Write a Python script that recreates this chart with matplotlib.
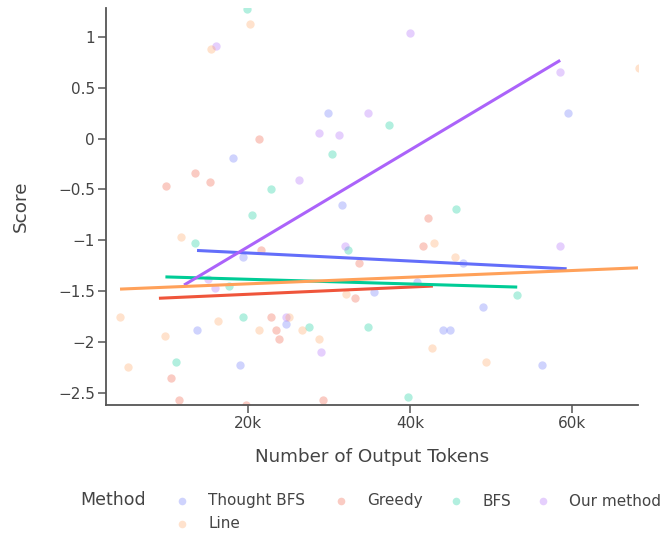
import matplotlib
matplotlib.use("Agg")
import matplotlib.pyplot as plt
from matplotlib.lines import Line2D
from matplotlib.ticker import FuncFormatter

plt.rcParams['font.family'] = ['DejaVu Sans']

# ---- data (x in thousands of tokens) ----
methods = ["Thought BFS", "Greedy", "BFS", "Our method", "Line"]
colors = ["#636EFA", "#EF553B", "#00CC96", "#AB63FA", "#FFA15A"]

tbfs_x = [18.1, 29.9, 59.5, 31.6, 19.4, 35.5, 13.7, 24.7, 19.0, 46.5, 40.8, 49.0, 44.0, 44.9, 56.2]
tbfs_y = [-0.19, 0.25, 0.25, -0.65, -1.16, -1.51, -1.88, -1.82, -2.23, -1.22, -1.41, -1.66, -1.88, -1.88, -2.23]

greedy_x = [21.4, 13.4, 9.9, 15.3, 21.6, 33.7, 33.2, 22.8, 23.5, 23.8, 10.5, 11.5, 29.2, 19.8, 42.2, 41.6]
greedy_y = [0.0, -0.34, -0.47, -0.43, -1.10, -1.22, -1.57, -1.75, -1.88, -1.97, -2.35, -2.57, -2.57, -2.62, -0.78, -1.06]

bfs_x = [19.9, 30.4, 22.8, 37.4, 20.5, 13.5, 32.3, 17.6, 19.4, 27.5, 34.8, 11.1, 45.7, 53.2, 39.7]
bfs_y = [1.28, -0.15, -0.50, 0.13, -0.75, -1.03, -1.10, -1.45, -1.75, -1.85, -1.85, -2.20, -0.69, -1.54, -2.54]

ours_x = [16.0, 34.8, 28.8, 31.2, 26.3, 40.0, 58.5, 32.0, 15.1, 15.9, 24.7, 29.0, 58.5]
ours_y = [0.91, 0.25, 0.06, 0.04, -0.41, 1.04, 0.66, -1.06, -1.38, -1.47, -1.75, -2.10, -1.06]

line_x = [20.2, 15.4, 68.2, 11.7, 4.2, 16.3, 9.8, 5.2, 21.4, 25.0, 26.7, 28.8, 32.1, 42.9, 45.5, 42.7, 49.4]
line_y = [1.13, 0.88, 0.69, -0.97, -1.75, -1.79, -1.94, -2.25, -1.88, -1.75, -1.88, -1.97, -1.53, -1.03, -1.16, -2.06, -2.20]

# fitted trend lines (start / end points)
trend_tbfs = ([13.7, 59.3], [-1.10, -1.28])
trend_greedy = ([9.0, 42.8], [-1.57, -1.45])
trend_bfs = ([9.8, 53.2], [-1.36, -1.46])
trend_ours = ([12.1, 58.5], [-1.44, 0.77])
trend_line = ([4.2, 68.3], [-1.48, -1.27])

points = [(tbfs_x, tbfs_y), (greedy_x, greedy_y), (bfs_x, bfs_y), (ours_x, ours_y), (line_x, line_y)]
trends = [trend_tbfs, trend_greedy, trend_bfs, trend_ours, trend_line]

W, H = 662, 537

# ---- figure ----
fig = plt.figure(figsize=(W / 100, H / 100), dpi=100)
ax = fig.add_axes([106 / W, 1 - 405 / H, (638 - 106) / W, (405 - 8) / H])

for (xs, ys), c in zip(points, colors):
    ax.scatter(xs, ys, s=36, color=c, alpha=0.3, linewidths=0, zorder=2)

for (xs, ys), c in zip(trends, colors):
    ax.plot(xs, ys, color=c, lw=2.2, solid_capstyle='butt', zorder=3)

ax.set_xlim(2.47, 68.1)
ax.set_ylim(-2.62, 1.285)
ax.set_xticks([20, 40, 60])
ax.set_yticks([1, 0.5, 0, -0.5, -1, -1.5, -2, -2.5])
ax.xaxis.set_major_formatter(FuncFormatter(lambda v, p: "%dk" % v))
ax.yaxis.set_major_formatter(FuncFormatter(lambda v, p: ("%g" % v).replace("-", "\u2212")))

for s in ["top", "right"]:
    ax.spines[s].set_visible(False)
for s in ["left", "bottom"]:
    ax.spines[s].set_color("#555555")
    ax.spines[s].set_linewidth(1.3)
ax.tick_params(colors="#555555", labelcolor="#444444", labelsize=11, length=6, width=1.1, pad=2)

ax.set_xlabel("Number of Output Tokens", fontsize=13.2, color="#444444", labelpad=12)
ax.set_ylabel("Score", fontsize=13.2, color="#444444", labelpad=20)

# legend laid out horizontally under the plot (plotly style, title on the left)
legend_pos = [(182, 501), (341, 501), (456, 501), (543, 501), (182, 524)]
for name, c, (px, py) in zip(methods, colors, legend_pos):
    fig.add_artist(Line2D([px / W], [1 - py / H], transform=fig.transFigure, marker='o',
                          ls='', color=c, alpha=0.3, markersize=5.5, markeredgewidth=0))
    fig.text((px + 26) / W, 1 - py / H, name, fontsize=11, color="#444444", va="center")
fig.text(80 / W, 1 - 500 / H, "Method", fontsize=12.5, color="#444444", va="center")

fig.savefig("out.png", dpi=100)
